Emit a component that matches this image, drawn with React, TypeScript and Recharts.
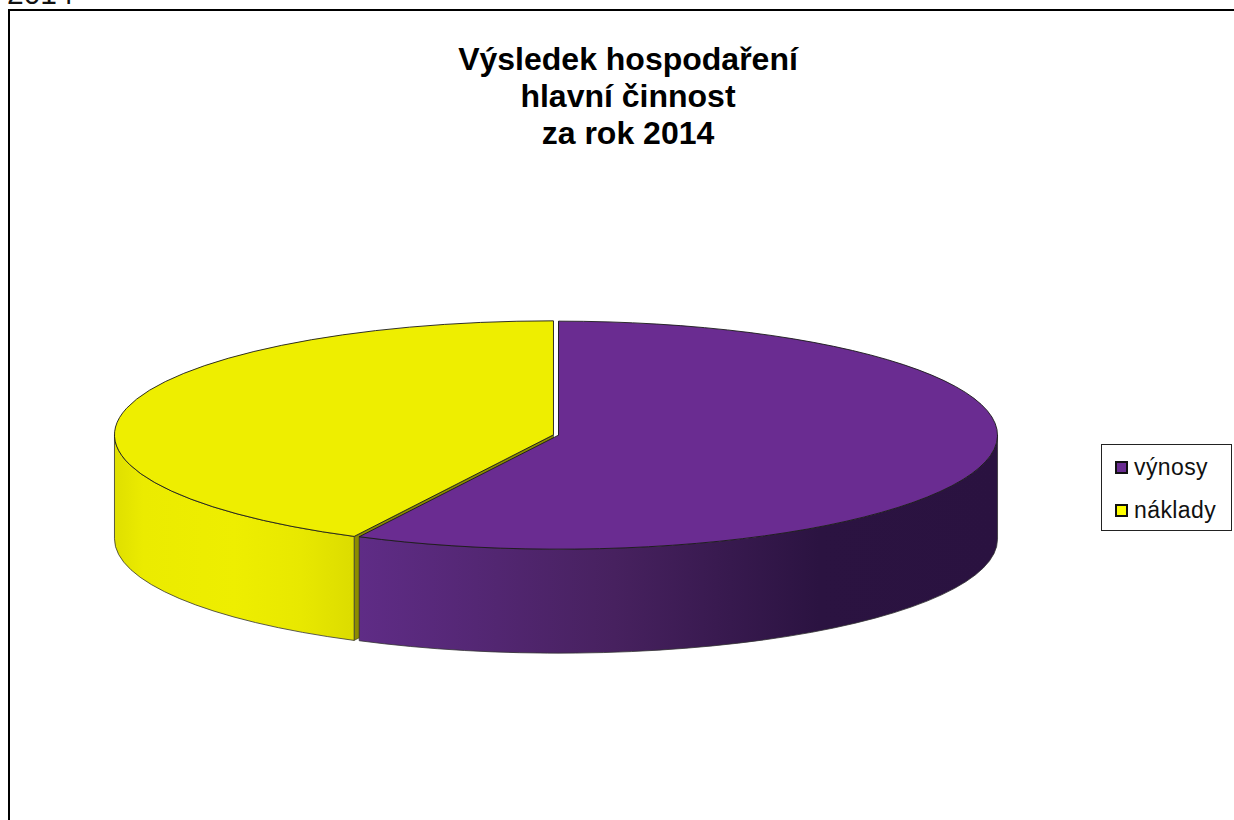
import { PieChart, Pie, Legend } from 'recharts';

const categories = ['výnosy', 'náklady'];
const values = [57.5, 42.5];
const topColors = ['#6a2c91', '#eeee00'];
const cutColors = ['#3a1850', '#8c8c00'];
const wallStops = [
  [['0%', '#5f2c86'], ['40%', '#47215f'], ['72%', '#2b1341'], ['100%', '#2a1240']],
  [['0%', '#dfdf00'], ['12%', '#ebeb00'], ['50%', '#eeee00'], ['78%', '#e8e800'], ['100%', '#dcdc00']],
];
const titleLines = ['Výsledek hospodaření', 'hlavní činnost', 'za rok 2014'];

const WIDTH = 1234;
const HEIGHT = 820;
const CX = 556;
const CY = 435;
const RX = 439;
const RY = 114;
const DEPTH = 104;
const EXPLODE = 2.6;

const data = categories.map((name, i) => ({ name, value: values[i], index: i }));

function point(cx: number, cy: number, deg: number) {
  const a = (deg * Math.PI) / 180;
  return { x: cx + RX * Math.cos(a), y: cy - RY * Math.sin(a) };
}

// recharts hands over the sector angles, the ellipse is squashed from them
function Slice3D(props: any, layer: string) {
  const { startAngle, endAngle, payload } = props;
  const i = payload.index ?? props.index;
  const mid = (((startAngle + endAngle) / 2) * Math.PI) / 180;
  const cx = CX + EXPLODE * Math.cos(mid);
  const cy = CY - (EXPLODE * RY * Math.sin(mid)) / RX;
  const s = point(cx, cy, startAngle);
  const e = point(cx, cy, endAngle);

  if (layer === 'cut') {
    return (
      <path
        d={`M${s.x},${s.y} L${cx},${cy} L${cx},${cy + DEPTH} L${s.x},${s.y + DEPTH} Z`}
        fill={cutColors[i]}
        stroke="#222"
        strokeWidth={0.5}
      />
    );
  }

  if (layer === 'wall') {
    const a = Math.min(startAngle, 0);
    const b = Math.max(endAngle, -180);
    if (a <= b) return <g />;
    const p = point(cx, cy, a);
    const q = point(cx, cy, b);
    const large = a - b > 180 ? 1 : 0;
    const id = `wall-${i}`;
    return (
      <g>
        <defs>
          <linearGradient id={id} gradientUnits="userSpaceOnUse" x1={Math.min(p.x, q.x)} x2={Math.max(p.x, q.x)} y1={0} y2={0}>
            {wallStops[i].map(([offset, color]) => (
              <stop key={offset} offset={offset} stopColor={color} />
            ))}
          </linearGradient>
        </defs>
        <path
          d={`M${p.x},${p.y} A${RX},${RY} 0 ${large} 1 ${q.x},${q.y} L${q.x},${q.y + DEPTH} A${RX},${RY} 0 ${large} 0 ${p.x},${p.y + DEPTH} Z`}
          fill={`url(#${id})`}
          stroke="#333"
          strokeWidth={0.8}
        />
      </g>
    );
  }

  const large = startAngle - endAngle > 180 ? 1 : 0;
  return (
    <path
      d={`M${cx},${cy} L${s.x},${s.y} A${RX},${RY} 0 ${large} 1 ${e.x},${e.y} Z`}
      fill={topColors[i]}
      stroke="#1a1a1a"
      strokeWidth={0.9}
    />
  );
}

function LegendBox() {
  return (
    <div
      style={{
        boxSizing: 'border-box',
        width: 131,
        height: 87,
        border: '1.5px solid #222',
        background: '#fff',
        fontFamily: '"Liberation Sans", Arial, sans-serif',
        fontSize: 23,
        color: '#111',
        paddingTop: 1,
      }}
    >
      {categories.map((name, i) => (
        <div key={name} style={{ display: 'flex', alignItems: 'center', height: 43, paddingLeft: 13 }}>
          <span
            style={{
              boxSizing: 'border-box',
              width: 13,
              height: 13,
              border: '2px solid #111',
              background: i === 0 ? topColors[0] : '#ffff00',
              marginRight: 6,
            }}
          />
          <span style={{ letterSpacing: 0.4 }}>{name}</span>
        </div>
      ))}
    </div>
  );
}

export default function App() {
  return (
    <div style={{ position: 'fixed', left: 0, top: 0, width: WIDTH, height: HEIGHT, overflow: 'hidden', background: '#fff' }}>
      <div
        style={{
          position: 'absolute',
          left: 7,
          top: -21,
          fontFamily: '"Liberation Sans", Arial, sans-serif',
          fontSize: 30,
          lineHeight: '30px',
          color: '#111',
        }}
      >
        2014
      </div>
      <div style={{ position: 'absolute', left: 8, top: 9, width: 1400, height: 1000, border: '2px solid #000' }} />
      <div
        style={{
          position: 'absolute',
          left: 328,
          top: 41,
          width: 600,
          textAlign: 'center',
          fontFamily: '"Liberation Sans", Arial, sans-serif',
          fontWeight: 700,
          fontSize: 32,
          lineHeight: '37px',
          color: '#000',
        }}
      >
        {titleLines.map((line) => (
          <div key={line}>{line}</div>
        ))}
      </div>
      <div style={{ position: 'absolute', left: 0, top: 0 }}>
        <PieChart width={WIDTH} height={HEIGHT} margin={{ top: 0, right: 0, bottom: 0, left: 0 }}>
          {['cut', 'wall', 'top'].map((layer) => (
            <Pie
              key={layer}
              data={data}
              dataKey="value"
              nameKey="name"
              cx={CX}
              cy={CY}
              outerRadius={RX}
              startAngle={90}
              endAngle={-270}
              stroke="none"
              isAnimationActive={false}
              legendType="none"
              shape={(props: any) => Slice3D(props, layer)}
            />
          ))}
          <Legend
            content={() => <LegendBox />}
            wrapperStyle={{ position: 'absolute', left: 1101, top: 444, width: 131, bottom: 'auto', right: 'auto' }}
          />
        </PieChart>
      </div>
    </div>
  );
}
